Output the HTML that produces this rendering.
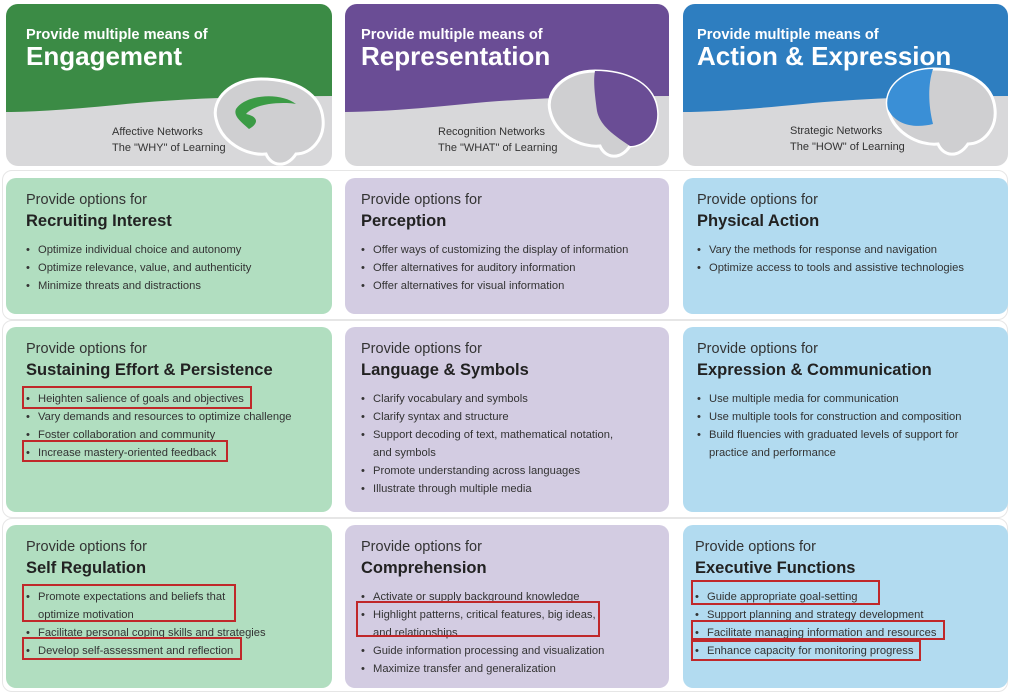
<!DOCTYPE html>
<html><head><meta charset="utf-8"><style>
*{margin:0;padding:0;box-sizing:border-box}
body{width:1010px;height:692px;background:#fff;position:relative;overflow:hidden;font-family:"Liberation Sans",sans-serif;color:#2b2b2b}
.hdr{position:absolute;top:4px;height:162px;border-radius:12px;overflow:hidden;background:#d8d8da}
.hdr svg.w{position:absolute;left:0;top:0}
.pm{position:absolute;left:20px;top:23px;font-size:14.6px;font-weight:bold;color:#fff}
.big{position:absolute;left:20px;top:37px;font-size:26px;font-weight:bold;color:#fff}
.sub{position:absolute;font-size:11px;line-height:16px;color:#333}
.box{position:absolute;border-radius:10px}
.po{position:absolute;left:20px;top:14px;font-size:14.5px;color:#333}
.tt{position:absolute;left:20px;top:34px;font-size:16.5px;font-weight:bold;color:#222}
ul{position:absolute;left:20px;top:63px;list-style:none;font-size:11.2px;line-height:18px;color:#333}
li{padding-left:12px;position:relative}
li:before{content:"•";position:absolute;left:0}
.rb{position:absolute;border:2px solid #c0282a}
.sep{position:absolute;border:1px solid #e6e6e6;border-radius:10px}
</style></head><body>
<div class="sep" style="left:2px;top:170px;width:1006px;height:150px"></div>
<div class="sep" style="left:2px;top:320px;width:1006px;height:198px"></div>
<div class="sep" style="left:2px;top:518px;width:1006px;height:174px"></div>

<div class="hdr" style="left:6px;width:326px">
<svg class="w" width="326" height="162"><path d="M0 0H326V92Q200 92 120 100T0 108Z" fill="#3b8b45"/>
<g transform="translate(205,70)"><path d="M5 45C0 25 20 5 50 5C85 5 110 20 112 45C114 65 100 80 85 80C75 95 60 92 55 80C35 82 10 68 5 45Z" fill="#cfcfd1" stroke="#fff" stroke-width="3"/><path d="M25 35C35 20 70 18 85 30C75 28 45 28 35 40C45 42 50 48 38 55C30 48 22 42 25 35Z" fill="#3b9b45"/></g></svg>
<div class="pm">Provide multiple means of</div><div class="big">Engagement</div>
<div class="sub" style="left:106px;top:120px">Affective Networks<br>The "WHY" of Learning</div></div>

<div class="hdr" style="left:345px;width:324px">
<svg class="w" width="324" height="162"><path d="M0 0H324V92Q200 92 120 100T0 108Z" fill="#6a4d95"/>
<g transform="translate(200,62)"><path d="M5 45C0 25 20 5 50 5C85 5 110 20 112 45C114 65 100 80 85 80C75 95 60 92 55 80C35 82 10 68 5 45Z" fill="#cfcfd1" stroke="#fff" stroke-width="3"/><path d="M50 5C85 5 110 20 112 45C114 65 100 80 85 80C70 70 55 60 52 45C50 30 48 15 50 5Z" fill="#6a4d95"/></g></svg>
<div class="pm" style="left:16px">Provide multiple means of</div><div class="big" style="left:16px">Representation</div>
<div class="sub" style="left:93px;top:120px">Recognition Networks<br>The "WHAT" of Learning</div></div>

<div class="hdr" style="left:683px;width:325px">
<svg class="w" width="325" height="162"><path d="M0 0H325V92Q200 92 120 100T0 108Z" fill="#2e7ec0"/>
<g transform="translate(200,60)"><path d="M5 45C0 25 20 5 50 5C85 5 110 20 112 45C114 65 100 80 85 80C75 95 60 92 55 80C35 82 10 68 5 45Z" fill="#cfcfd1" stroke="#fff" stroke-width="3"/><path d="M5 45C0 25 20 5 50 5C45 20 45 40 50 60C30 65 12 60 5 45Z" fill="#3a8fd6"/></g></svg>
<div class="pm" style="left:14px">Provide multiple means of</div><div class="big" style="left:14px">Action &amp; Expression</div>
<div class="sub" style="left:107px;top:119px">Strategic Networks<br>The "HOW" of Learning</div></div>

<div class="box" style="left:6px;top:178px;width:326px;height:136px;background:#b1dec0"><div class="po">Provide options for</div><div class="tt">Recruiting Interest</div>
<ul><li>Optimize individual choice and autonomy</li><li>Optimize relevance, value, and authenticity</li><li>Minimize threats and distractions</li></ul></div>
<div class="box" style="left:345px;top:178px;width:324px;height:136px;background:#d3cce2"><div class="po" style="left:16px">Provide options for</div><div class="tt" style="left:16px">Perception</div>
<ul style="left:16px"><li>Offer ways of customizing the display of information</li><li>Offer alternatives for auditory information</li><li>Offer alternatives for visual information</li></ul></div>
<div class="box" style="left:683px;top:178px;width:325px;height:136px;background:#b2dbf0"><div class="po" style="left:14px">Provide options for</div><div class="tt" style="left:14px">Physical Action</div>
<ul style="left:14px"><li>Vary the methods for response and navigation</li><li>Optimize access to tools and assistive technologies</li></ul></div>

<div class="box" style="left:6px;top:327px;width:326px;height:185px;background:#b1dec0"><div class="po">Provide options for</div><div class="tt">Sustaining Effort &amp; Persistence</div>
<ul><li>Heighten salience of goals and objectives</li><li>Vary demands and resources to optimize challenge</li><li>Foster collaboration and community</li><li>Increase mastery-oriented feedback</li></ul></div>
<div class="box" style="left:345px;top:327px;width:324px;height:185px;background:#d3cce2"><div class="po" style="left:16px">Provide options for</div><div class="tt" style="left:16px">Language &amp; Symbols</div>
<ul style="left:16px"><li>Clarify vocabulary and symbols</li><li>Clarify syntax and structure</li><li>Support decoding of text, mathematical notation,<br>and symbols</li><li>Promote understanding across languages</li><li>Illustrate through multiple media</li></ul></div>
<div class="box" style="left:683px;top:327px;width:325px;height:185px;background:#b2dbf0"><div class="po" style="left:14px">Provide options for</div><div class="tt" style="left:14px">Expression &amp; Communication</div>
<ul style="left:14px"><li>Use multiple media for communication</li><li>Use multiple tools for construction and composition</li><li>Build fluencies with graduated levels of support for<br>practice and performance</li></ul></div>

<div class="box" style="left:6px;top:525px;width:326px;height:163px;background:#b1dec0"><div class="po">Provide options for</div><div class="tt">Self Regulation</div>
<ul><li>Promote expectations and beliefs that<br>optimize motivation</li><li>Facilitate personal coping skills and strategies</li><li>Develop self-assessment and reflection</li></ul></div>
<div class="box" style="left:345px;top:525px;width:324px;height:163px;background:#d3cce2"><div class="po" style="left:16px">Provide options for</div><div class="tt" style="left:16px">Comprehension</div>
<ul style="left:16px"><li>Activate or supply background knowledge</li><li>Highlight patterns, critical features, big ideas,<br>and relationships</li><li>Guide information processing and visualization</li><li>Maximize transfer and generalization</li></ul></div>
<div class="box" style="left:683px;top:525px;width:325px;height:163px;background:#b2dbf0"><div class="po" style="left:12px">Provide options for</div><div class="tt" style="left:12px">Executive Functions</div>
<ul style="left:12px"><li>Guide appropriate goal-setting</li><li>Support planning and strategy development</li><li>Facilitate managing information and resources</li><li>Enhance capacity for monitoring progress</li></ul></div>

<div class="rb" style="left:22px;top:386px;width:230px;height:23px"></div>
<div class="rb" style="left:22px;top:440px;width:206px;height:22px"></div>
<div class="rb" style="left:22px;top:584px;width:214px;height:38px"></div>
<div class="rb" style="left:22px;top:637px;width:220px;height:23px"></div>
<div class="rb" style="left:356px;top:601px;width:244px;height:36px"></div>
<div class="rb" style="left:691px;top:580px;width:189px;height:25px"></div>
<div class="rb" style="left:691px;top:620px;width:254px;height:20px"></div>
<div class="rb" style="left:691px;top:640px;width:230px;height:21px"></div>
</body></html>
